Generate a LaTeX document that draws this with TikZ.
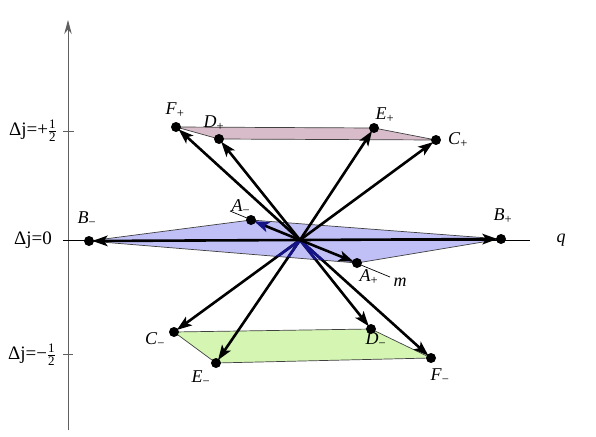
\documentclass[tikz,border=0pt]{standalone}
\usepackage{fontspec}
\setmainfont{Liberation Serif}
\usetikzlibrary{arrows.meta}
\definecolor{pinkfill}{RGB}{216,188,202}
\definecolor{bluefill}{RGB}{192,192,246}
\definecolor{greenfill}{RGB}{212,246,178}
\definecolor{navyline}{RGB}{20,20,135}
\definecolor{axisgray}{RGB}{95,95,95}
\newcommand{\halffrac}{$\frac{\mbox{\fontsize{13}{14}\selectfont 1}}{\mbox{\fontsize{13}{14}\selectfont 2}}$}
\begin{document}
\begin{tikzpicture}[x=1pt,y=-1pt,
  axis/.style={draw=axisgray,line width=0.8pt},
  plane/.style={draw=black!75,line width=0.7pt},
  vec/.style={line width=2.6pt,shorten >=3.5pt,-{Stealth[length=15pt,width=10.5pt,inset=3.5pt]}},
  dot/.style={circle,fill=black,inner sep=0pt,minimum size=10pt},
  lab/.style={inner sep=0pt,font=\fontsize{18}{20}\selectfont},
  djlab/.style={inner sep=0pt,font=\fontsize{19}{21}\selectfont}]
\useasboundingbox (0,0) rectangle (596,436);
% coordinates
\coordinate (O) at (300,240);
\coordinate (Fp) at (176,127);
\coordinate (Dp) at (219,139);
\coordinate (Ep) at (374,128);
\coordinate (Cp) at (436,140);
\coordinate (Bm) at (89,241);
\coordinate (Bp) at (501,239);
\coordinate (Am) at (251,220);
\coordinate (Ap) at (357,263);
\coordinate (Cm) at (174,332);
\coordinate (Em) at (216,363);
\coordinate (Dm) at (371,329);
\coordinate (Fm) at (431,358);
% axes
\coordinate (vb) at (68,430);
\coordinate (vt) at (68,20);
\draw[axis,-{Stealth[length=14pt,width=7.5pt]}] (vb) -- (vt);
\coordinate (t1a) at (63,131); \coordinate (t1b) at (74,131);
\coordinate (t2a) at (63,354); \coordinate (t2b) at (73,354);
\draw[axis] (t1a) -- (t1b);
\draw[axis] (t2a) -- (t2b);
\node[djlab] (dj1) at (33,131) {Δj=+\halffrac};
\node[djlab] (dj0) at (33,240) {Δj=0};
\node[djlab] (dj2) at (32,355) {Δj=−\halffrac};
% planes
\filldraw[plane,fill=pinkfill] (Fp) -- (Ep) -- (Cp) -- (Dp) -- cycle;
\filldraw[plane,fill=greenfill] (Cm) -- (Dm) -- (Fm) -- (Em) -- cycle;
\filldraw[plane,fill=bluefill] (Bm) -- (Am) -- (Bp) -- (Ap) -- cycle;
% q axis and m axis
\coordinate (q0) at (63,240);
\coordinate (q1) at (530,240);
\draw[line width=0.8pt] (q0) -- (q1);
\coordinate (m1) at (230,211);
\coordinate (m2) at (390,277);
\draw[line width=0.7pt] (m1) -- (m2);
% vectors
\draw[vec] (O) -- (Cm);
\draw[vec] (O) -- (Em);
\draw[vec] (O) -- (Dm);
\draw[vec] (O) -- (Fm);
\begin{scope}
\clip (Bm) -- (Am) -- (Bp) -- (Ap) -- cycle;
\draw[line width=2.6pt,navyline] (O) -- (Cm) (O) -- (Em) (O) -- (Dm) (O) -- (Fm);
\end{scope}
\draw[vec,-{Stealth[length=15pt,width=10.5pt,inset=3.5pt,color=navyline]}] (O) -- (Am);
\draw[vec] (O) -- (Ap);
\draw[vec] (O) -- (Bm);
\draw[vec] (O) -- (Bp);
\draw[vec] (O) -- (Fp);
\draw[vec] (O) -- (Dp);
\draw[vec] (O) -- (Ep);
\draw[vec] (O) -- (Cp);
% dots
\foreach \p in {Fp,Dp,Ep,Cp,Bm,Bp,Am,Ap,Cm,Em,Dm,Fm}
  \node[dot] (d\p) at (\p) {};
% labels
\node[lab] (lFp) at (175,110) {\textit{F}\textsubscript{+}};
\node[lab] (lDp) at (214,123) {\textit{D}\textsubscript{+}};
\node[lab] (lEp) at (385,115) {\textit{E}\textsubscript{+}};
\node[lab] (lCp) at (458,140) {\textit{C}\textsubscript{+}};
\node[lab] (lBm) at (87,219) {\textit{B}\textsubscript{−}};
\node[lab] (lBp) at (503,216) {\textit{B}\textsubscript{+}};
\node[lab] (lq) at (561,240) {\textit{q}};
\node[lab] (lAm) at (241,207) {\textit{A}\textsubscript{−}};
\node[lab] (lAp) at (369,277) {\textit{A}\textsubscript{+}};
\node[lab] (lm) at (400,282) {\textit{m}};
\node[lab] (lCm) at (155,340) {\textit{C}\textsubscript{−}};
\node[lab] (lEm) at (201,378) {\textit{E}\textsubscript{−}};
\node[lab] (lDm) at (376,340) {\textit{D}\textsubscript{−}};
\node[lab] (lFm) at (440,376) {\textit{F}\textsubscript{−}};
\end{tikzpicture}
\end{document}
